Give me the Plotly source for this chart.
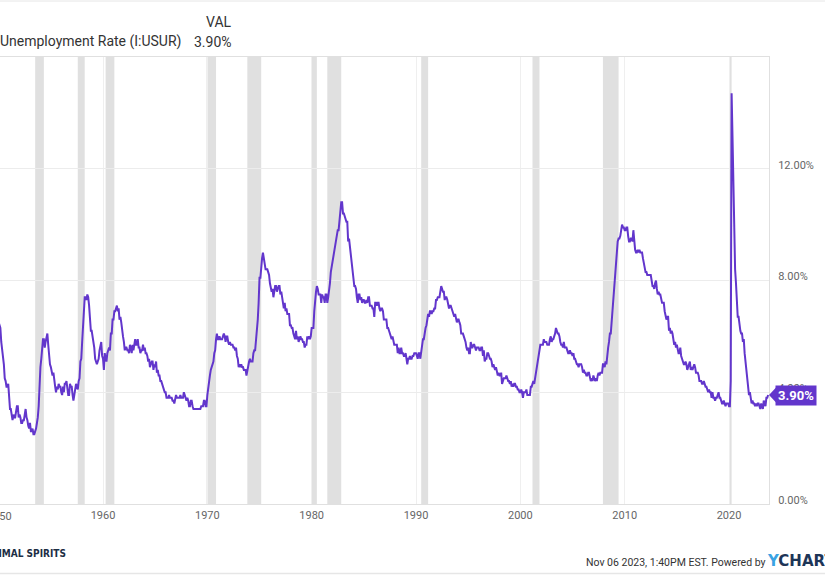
import pandas as pd
import plotly.graph_objects as go

# ---------------- data (US unemployment rate, monthly, %) ----------------
u1950s = [6.5, 6.4, 6.3, 5.8, 5.5, 5.4, 5.0, 4.5, 4.4, 4.2, 4.2, 4.3,
          3.7, 3.4, 3.4, 3.1, 3.0, 3.2, 3.1, 3.1, 3.3, 3.5, 3.5, 3.1,
          3.2, 3.1, 2.9, 2.9, 3.0, 3.0, 3.2, 3.4, 3.1, 3.0, 2.8, 2.7,
          2.9, 2.6, 2.6, 2.7, 2.5, 2.5, 2.6, 2.7, 2.9, 3.1, 3.5, 4.5,
          4.9, 5.2, 5.7, 5.9, 5.9, 5.6, 5.8, 6.0, 6.1, 5.7, 5.3, 5.0,
          4.9, 4.7, 4.6, 4.7, 4.3, 4.2, 4.0, 4.2, 4.1, 4.3, 4.2, 4.2,
          4.0, 3.9, 4.2, 4.0, 4.3, 4.3, 4.4, 4.1, 3.9, 3.9, 4.3, 4.2,
          4.2, 3.9, 3.7, 3.9, 4.1, 4.3, 4.2, 4.1, 4.4, 4.5, 5.1, 5.2,
          5.8, 6.4, 6.7, 7.4, 7.4, 7.3, 7.5, 7.4, 7.1, 6.7, 6.2, 6.2,
          6.0, 5.9, 5.6, 5.2, 5.1, 5.0, 5.1, 5.2, 5.5, 5.7, 5.8, 5.3]
u1960s = [5.2, 4.8, 5.4, 5.2, 5.1, 5.4, 5.5, 5.6, 5.5, 6.1, 6.1, 6.6,
          6.6, 6.9, 6.9, 7.0, 7.1, 6.9, 7.0, 6.6, 6.7, 6.5, 6.1, 6.0,
          5.8, 5.5, 5.6, 5.6, 5.5, 5.5, 5.4, 5.7, 5.6, 5.4, 5.7, 5.5,
          5.7, 5.9, 5.7, 5.7, 5.9, 5.6, 5.6, 5.4, 5.5, 5.5, 5.7, 5.5,
          5.6, 5.4, 5.4, 5.3, 5.1, 5.2, 4.9, 5.0, 5.1, 5.1, 4.8, 5.0,
          4.9, 5.1, 4.7, 4.8, 4.6, 4.6, 4.4, 4.4, 4.3, 4.2, 4.1, 4.0,
          4.0, 3.8, 3.8, 3.8, 3.9, 3.8, 3.8, 3.8, 3.7, 3.7, 3.6, 3.8,
          3.9, 3.8, 3.8, 3.8, 3.8, 3.9, 3.8, 3.8, 3.8, 4.0, 3.9, 3.8,
          3.7, 3.8, 3.7, 3.5, 3.5, 3.7, 3.7, 3.5, 3.4, 3.4, 3.4, 3.4,
          3.4, 3.4, 3.4, 3.4, 3.4, 3.5, 3.5, 3.5, 3.7, 3.7, 3.5, 3.5]
u1970s = [3.9, 4.2, 4.4, 4.6, 4.8, 4.9, 5.0, 5.1, 5.4, 5.5, 5.9, 6.1,
          5.9, 5.9, 6.0, 5.9, 5.9, 5.9, 6.0, 6.1, 6.0, 5.8, 6.0, 6.0,
          5.8, 5.7, 5.8, 5.7, 5.7, 5.7, 5.6, 5.6, 5.5, 5.6, 5.3, 5.2,
          4.9, 5.0, 4.9, 5.0, 4.9, 4.9, 4.8, 4.8, 4.8, 4.6, 4.8, 4.9,
          5.1, 5.2, 5.1, 5.1, 5.1, 5.4, 5.5, 5.5, 5.9, 6.0, 6.6, 7.2,
          8.1, 8.1, 8.6, 8.8, 9.0, 8.8, 8.6, 8.4, 8.4, 8.4, 8.3, 8.2,
          7.9, 7.7, 7.6, 7.7, 7.4, 7.6, 7.8, 7.8, 7.6, 7.7, 7.8, 7.8,
          7.5, 7.6, 7.4, 7.2, 7.0, 7.2, 6.9, 7.0, 6.8, 6.8, 6.8, 6.4,
          6.4, 6.3, 6.3, 6.1, 6.0, 5.9, 6.2, 5.9, 6.0, 5.8, 5.9, 6.0,
          5.9, 5.9, 5.8, 5.8, 5.6, 5.7, 5.7, 6.0, 5.9, 6.0, 5.9, 6.0]
u1980s = [6.3, 6.3, 6.3, 6.9, 7.5, 7.6, 7.8, 7.7, 7.5, 7.5, 7.5, 7.2,
          7.5, 7.4, 7.4, 7.2, 7.5, 7.5, 7.2, 7.4, 7.6, 7.9, 8.3, 8.5,
          8.6, 8.9, 9.0, 9.3, 9.4, 9.6, 9.8, 9.8, 10.1, 10.4, 10.8, 10.8,
          10.4, 10.4, 10.3, 10.2, 10.1, 10.1, 9.4, 9.5, 9.2, 8.8, 8.5, 8.3,
          8.0, 7.8, 7.8, 7.7, 7.4, 7.2, 7.5, 7.5, 7.3, 7.4, 7.2, 7.3,
          7.3, 7.2, 7.2, 7.3, 7.2, 7.4, 7.4, 7.1, 7.1, 7.1, 7.0, 7.0,
          6.7, 7.2, 7.2, 7.1, 7.2, 7.2, 7.0, 6.9, 7.0, 7.0, 6.9, 6.6,
          6.6, 6.6, 6.6, 6.3, 6.3, 6.2, 6.1, 6.0, 5.9, 6.0, 5.8, 5.7,
          5.7, 5.7, 5.7, 5.4, 5.6, 5.4, 5.4, 5.6, 5.4, 5.4, 5.3, 5.3,
          5.4, 5.2, 5.0, 5.2, 5.2, 5.3, 5.2, 5.2, 5.3, 5.3, 5.4, 5.4]
u1990s = [5.4, 5.3, 5.2, 5.4, 5.4, 5.2, 5.5, 5.7, 5.9, 5.9, 6.2, 6.3,
          6.4, 6.6, 6.8, 6.7, 6.9, 6.9, 6.8, 6.9, 6.9, 7.0, 7.0, 7.3,
          7.3, 7.4, 7.4, 7.4, 7.6, 7.8, 7.7, 7.6, 7.6, 7.3, 7.4, 7.4,
          7.3, 7.1, 7.0, 7.1, 7.1, 7.0, 6.9, 6.8, 6.7, 6.8, 6.6, 6.5,
          6.6, 6.6, 6.5, 6.4, 6.1, 6.1, 6.1, 6.0, 5.9, 5.8, 5.6, 5.5,
          5.6, 5.4, 5.4, 5.8, 5.6, 5.6, 5.7, 5.7, 5.6, 5.5, 5.6, 5.6,
          5.6, 5.5, 5.5, 5.6, 5.6, 5.3, 5.5, 5.1, 5.2, 5.2, 5.4, 5.4,
          5.3, 5.2, 5.2, 5.1, 4.9, 5.0, 4.9, 4.8, 4.9, 4.7, 4.6, 4.7,
          4.6, 4.6, 4.7, 4.3, 4.4, 4.5, 4.5, 4.5, 4.6, 4.5, 4.4, 4.4,
          4.3, 4.4, 4.2, 4.3, 4.2, 4.3, 4.3, 4.2, 4.2, 4.1, 4.1, 4.0]
u2000s = [4.0, 4.1, 4.0, 3.8, 4.0, 4.0, 4.0, 4.1, 3.9, 3.9, 3.9, 3.9,
          4.2, 4.2, 4.3, 4.4, 4.3, 4.5, 4.6, 4.9, 5.0, 5.3, 5.5, 5.7,
          5.7, 5.7, 5.7, 5.9, 5.8, 5.8, 5.8, 5.7, 5.7, 5.7, 5.9, 6.0,
          5.8, 5.9, 5.9, 6.0, 6.1, 6.3, 6.2, 6.1, 6.1, 6.0, 5.8, 5.7,
          5.7, 5.6, 5.8, 5.6, 5.6, 5.6, 5.5, 5.4, 5.4, 5.5, 5.4, 5.4,
          5.3, 5.4, 5.2, 5.2, 5.1, 5.0, 5.0, 4.9, 5.0, 5.0, 5.0, 4.9,
          4.7, 4.8, 4.7, 4.7, 4.6, 4.6, 4.7, 4.7, 4.5, 4.4, 4.5, 4.4,
          4.6, 4.5, 4.4, 4.5, 4.4, 4.6, 4.7, 4.6, 4.7, 4.7, 4.7, 5.0,
          5.0, 4.9, 5.1, 5.0, 5.4, 5.6, 5.8, 6.1, 6.1, 6.5, 6.8, 7.3,
          7.8, 8.3, 8.7, 9.0, 9.4, 9.5, 9.5, 9.6, 9.8, 10.0, 9.9, 9.9]
u2010s = [9.8, 9.8, 9.9, 9.9, 9.6, 9.4, 9.4, 9.5, 9.5, 9.4, 9.8, 9.3,
          9.1, 9.0, 9.0, 9.1, 9.0, 9.1, 9.0, 9.0, 9.0, 8.8, 8.6, 8.5,
          8.3, 8.3, 8.2, 8.2, 8.2, 8.2, 8.2, 8.0, 7.8, 7.8, 7.7, 7.9,
          8.0, 7.7, 7.5, 7.6, 7.5, 7.5, 7.3, 7.2, 7.2, 7.2, 6.9, 6.7,
          6.6, 6.7, 6.7, 6.2, 6.3, 6.1, 6.2, 6.1, 5.9, 5.7, 5.8, 5.6,
          5.7, 5.5, 5.4, 5.4, 5.6, 5.3, 5.2, 5.1, 5.0, 5.0, 5.1, 5.0,
          4.8, 4.9, 5.0, 5.1, 4.8, 4.9, 4.8, 4.9, 5.0, 4.9, 4.7, 4.7,
          4.7, 4.6, 4.4, 4.4, 4.4, 4.3, 4.3, 4.4, 4.3, 4.2, 4.2, 4.1,
          4.0, 4.1, 4.0, 4.0, 3.8, 4.0, 3.8, 3.8, 3.7, 3.8, 3.8, 3.9,
          4.0, 3.8, 3.8, 3.7, 3.6, 3.6, 3.7, 3.6, 3.5, 3.6, 3.6, 3.6]
u2020s = [3.5, 3.5, 4.4, 14.7, 13.2, 11.0, 10.2, 8.4, 7.9, 6.9, 6.7, 6.7,
          6.4, 6.2, 6.1, 6.1, 5.8, 5.9, 5.4, 5.1, 4.7, 4.5, 4.2, 3.9,
          4.0, 3.8, 3.6, 3.7, 3.6, 3.6, 3.5, 3.6, 3.5, 3.6, 3.6, 3.5,
          3.4, 3.6, 3.5, 3.4, 3.7, 3.6, 3.5, 3.8, 3.8, 3.9]

rec_start = ["1953-07-01", "1957-08-01", "1960-04-01", "1969-12-01", "1973-11-01",
             "1980-01-01", "1981-07-01", "1990-07-01", "2001-03-01", "2007-12-01",
             "2020-02-01"]
rec_end = ["1954-05-01", "1958-04-01", "1961-02-01", "1970-11-01", "1975-03-01",
           "1980-07-01", "1982-11-01", "1991-03-01", "2001-11-01", "2009-06-01",
           "2020-04-01"]

x_tick_years = [1960, 1970, 1980, 1990, 2000, 2010, 2020]
y_ticks = [0, 4, 8, 12]
y_tick_text = ["0.00%", "4.00%", "8.00%", "12.00%"]

series_name = "Unemployment Rate (I:USUR)"
series_val_text = "3.90%"
timestamp_text = "Nov 06 2023, 1:40PM EST. Powered by"

# ---------------- build ----------------
values = u1950s + u1960s + u1970s + u1980s + u1990s + u2000s + u2010s + u2020s
dates = pd.date_range("1950-01-01", periods=len(values), freq="MS")

W, H = 825, 575
ML, MR, MT, MB = 0, 56, 57, 71
PW, PH = W - ML - MR, H - MT - MB
YMAX = 16

def px(xp):
    return (xp - ML) / PW

def py(yp):
    return (H - MB - yp) / PH

PURPLE = "#6236cc"
TXT = "#333333"
AX = "#666666"

fig = go.Figure()
fig.add_trace(go.Scatter(x=dates, y=values, mode="lines",
                         line=dict(color=PURPLE, width=2), hoverinfo="skip",
                         showlegend=False))

shapes = []
for s, e in zip(rec_start, rec_end):
    shapes.append(dict(type="rect", xref="x", yref="paper", x0=s, x1=e, y0=0, y1=1,
                       fillcolor="#e0e0e0", line=dict(width=0), layer="below"))

# pointer triangle of last-value label
last = values[-1]
yp_last = last / YMAX
dy = 7.5 / PH
shapes.append(dict(type="path", xref="paper", yref="paper",
                   path=f"M {px(769)},{yp_last} L {px(776)},{yp_last + dy} L {px(776)},{yp_last - dy} Z",
                   fillcolor=PURPLE, line=dict(width=0), layer="above"))
# page border lines
shapes.append(dict(type="line", xref="paper", yref="paper", x0=px(0), x1=px(W),
                   y0=py(1), y1=py(1), line=dict(color="#e6e6e6", width=1)))
shapes.append(dict(type="line", xref="paper", yref="paper", x0=px(0), x1=px(W),
                   y0=py(573.5), y1=py(573.5), line=dict(color="#e6e6e6", width=1.5)))

annotations = [
    dict(text="VAL", x=px(234), y=py(22), xref="paper", yref="paper",
         xanchor="right", yanchor="middle", showarrow=False,
         font=dict(family="Roboto", size=14, color=TXT)),
    dict(text=series_name, x=px(-2), y=py(42), xref="paper", yref="paper",
         xanchor="left", yanchor="middle", showarrow=False,
         font=dict(family="Roboto", size=14, color=TXT)),
    dict(text=series_val_text, x=px(234), y=py(42), xref="paper", yref="paper",
         xanchor="right", yanchor="middle", showarrow=False,
         font=dict(family="Roboto", size=14, color=TXT)),
    dict(text="<b>" + series_val_text + "</b>", x=px(775), y=yp_last, xref="paper", yref="paper",
         xanchor="left", yanchor="middle", showarrow=False, bgcolor=PURPLE,
         borderpad=2, font=dict(family="Roboto", size=13, color="white")),
    dict(text="1950", x=px(-1), y=py(516), xref="paper", yref="paper",
         xanchor="center", yanchor="middle", showarrow=False,
         font=dict(family="Roboto", size=11, color=AX)),
    dict(text="<b>ANIMAL SPIRITS</b>", x=px(68), y=py(553), xref="paper", yref="paper",
         xanchor="right", yanchor="middle", showarrow=False,
         font=dict(family="DejaVu Sans Condensed", size=10, color="#1c2e44")),
    dict(text=timestamp_text, x=px(768), y=py(562), xref="paper", yref="paper",
         xanchor="right", yanchor="middle", showarrow=False,
         font=dict(family="Roboto", size=10.5, color=TXT)),
    dict(text='<b><span style="color:#3aa3e3">Y</span>CHARTS</b>', x=px(765), y=py(561),
         xref="paper", yref="paper", xanchor="left", yanchor="middle", showarrow=False,
         font=dict(family="DejaVu Sans", size=15, color="#1d3557")),
]

fig.update_layout(
    width=W, height=H,
    margin=dict(l=ML, r=MR, t=MT, b=MB, pad=0),
    paper_bgcolor="white", plot_bgcolor="white",
    shapes=shapes, annotations=annotations,
    showlegend=False,
    xaxis=dict(type="date", range=["1950-02-16", "2023-11-01"],
               tickvals=[f"{y}-01-01" for y in x_tick_years],
               ticktext=[str(y) for y in x_tick_years],
               showgrid=True, gridcolor="#efefef", gridwidth=1,
               showline=True, linecolor="#e0e0e0", linewidth=1, mirror=True,
               ticks="", ticklabelstandoff=1,
               tickfont=dict(family="Roboto", size=11, color=AX), zeroline=False),
    yaxis=dict(side="right", range=[0, YMAX], tickvals=y_ticks, ticktext=y_tick_text,
               showgrid=True, gridcolor="#ececec", gridwidth=1,
               showline=True, linecolor="#e0e0e0", linewidth=1,
               ticks="", ticklabelstandoff=6, ticklabelshift=-4,
               tickfont=dict(family="Roboto", size=11, color=AX), zeroline=False),
)

fig.write_html("out.html")
